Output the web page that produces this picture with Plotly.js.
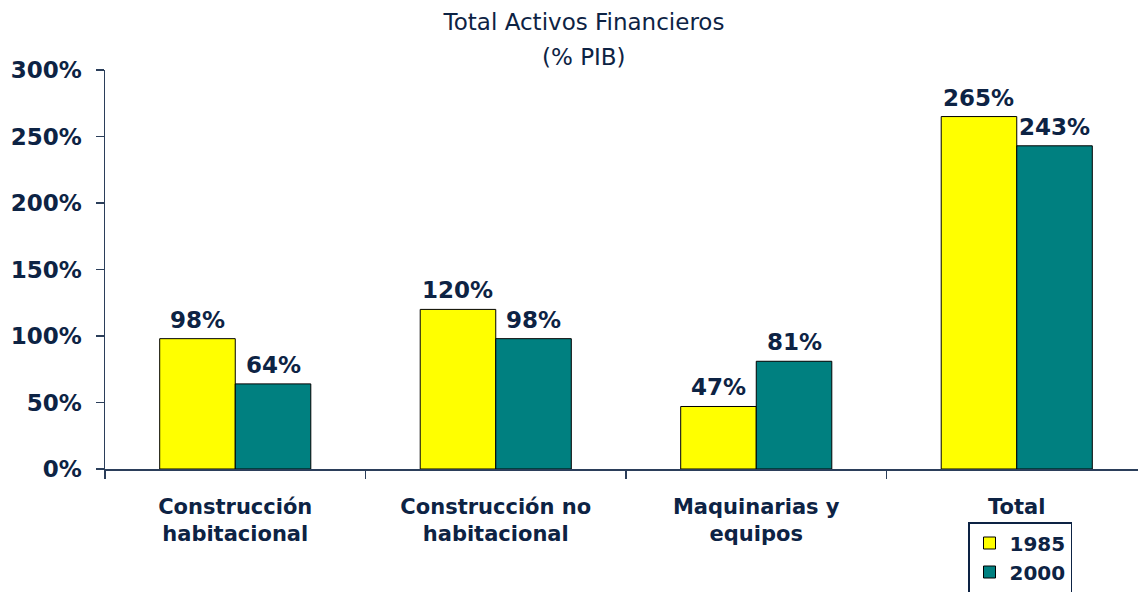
<!DOCTYPE html>
<html>
<head>
<meta charset="utf-8">
<script src="https://cdn.plot.ly/plotly-3.0.1.min.js"></script>
<style>
html,body{margin:0;padding:0;overflow:hidden;background:#fff;}
#chart{width:1150px;height:592px;}
</style>
</head>
<body>
<div id="chart"></div>
<script>
const categories = ["Construcción<br>habitacional", "Construcción no<br>habitacional", "Maquinarias y<br>equipos", "Total"];
const values1985 = [98, 120, 47, 265];
const values2000 = [64, 98, 81, 243];
const seriesNames = ["1985", "2000"];
const titleLines = ["Total Activos Financieros", "(% PIB)"];
const yTickVals = [0, 50, 100, 150, 200, 250, 300];
const yTickText = ["0%", "50%", "100%", "150%", "200%", "250%", "300%"];

const navy = "#0d2344";
const axisCol = "#2b3e5a";
const font = "DejaVu Sans, Verdana, sans-serif";

const traces = [
  {type: "bar", name: seriesNames[0], x: categories, y: values1985,
   marker: {color: "#FFFF00", line: {color: "#000000", width: 1}}},
  {type: "bar", name: seriesNames[1], x: categories, y: values2000,
   marker: {color: "#008080", line: {color: "#000000", width: 1}}}
];

const annotations = [];
[values1985, values2000].forEach((vals, s) => {
  vals.forEach((v, i) => {
    annotations.push({
      x: categories[i], y: v, xref: "x", yref: "y",
      text: "<b>" + v + "%</b>", showarrow: false,
      xanchor: "center", yanchor: "bottom",
      xshift: s === 0 ? -38 : 38, yshift: 4,
      font: {family: font, size: 23, color: navy}
    });
  });
});
// second title line
annotations.push({
  xref: "paper", yref: "paper", x: (584 - 105) / 1042, y: (469 - 57) / 399,
  xanchor: "center", yanchor: "middle", showarrow: false,
  text: titleLines[1], font: {family: font, size: 23, color: navy}
});

const layout = {
  width: 1150, height: 592,
  margin: {l: 105, r: 3, t: 70, b: 123, autoexpand: false},
  paper_bgcolor: "#ffffff", plot_bgcolor: "#ffffff",
  font: {family: font, color: navy},
  title: {text: titleLines[0], x: 584 / 1150, xanchor: "center",
          y: 1 - 22 / 592, yanchor: "middle", automargin: false,
          font: {family: font, size: 23, color: navy}},
  barmode: "group", bargap: 0.42, bargroupgap: 0,
  showlegend: true,
  legend: {x: (968 - 105) / 1042, y: (469 - 522) / 399, xanchor: "left", yanchor: "top",
           bgcolor: "#ffffff", bordercolor: navy, borderwidth: 1.5,
           font: {family: font, size: 20, color: navy, weight: "bold"},
           traceorder: "normal", tracegroupgap: 4},
  xaxis: {type: "category", showline: true, linecolor: axisCol, linewidth: 1.5,
          ticks: "outside", tickson: "boundaries", ticklen: 8, tickcolor: axisCol,
          tickwidth: 1.5, showgrid: false, zeroline: false, ticklabelstandoff: 18,
          automargin: false,
          tickfont: {family: font, size: 21, color: navy, weight: "bold"}},
  yaxis: {range: [0, 300], tickvals: yTickVals, ticktext: yTickText,
          showline: true, linecolor: axisCol, linewidth: 1.5,
          ticks: "outside", ticklen: 8, tickcolor: axisCol, tickwidth: 1.5,
          showgrid: false, zeroline: false, ticklabelstandoff: 9, automargin: false,
          tickfont: {family: font, size: 23, color: navy, weight: "bold"}},
  annotations: annotations
};

Plotly.newPlot("chart", traces, layout, {displayModeBar: false, staticPlot: true});
</script>
</body>
</html>
